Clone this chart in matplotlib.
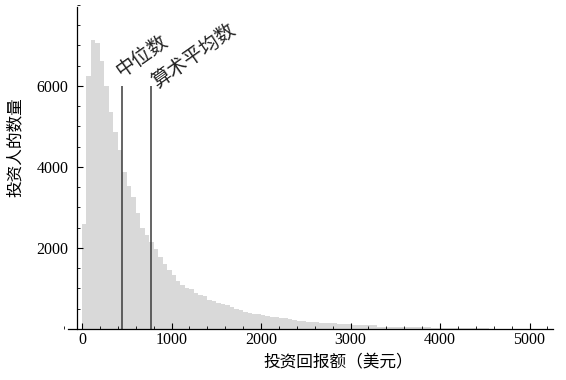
import numpy as np
import matplotlib
matplotlib.use("Agg")
import matplotlib.pyplot as plt
from matplotlib.ticker import MultipleLocator

# histogram of investor returns, 50-dollar bins starting at 0
BIN_WIDTH = 50
counts = [
    2600, 6250, 7130, 7050, 6620, 6000, 5370, 4860, 4420, 3870,
    3530, 3250, 2860, 2490, 2330, 2140, 1970, 1770, 1600, 1460,
    1340, 1190, 1090, 1010, 990, 880, 840, 810, 720, 700,
    650, 620, 580, 540, 500, 460, 420, 390, 370, 360,
    345, 310, 290, 285, 264, 260, 250, 210, 205, 185,
    180, 175, 165, 160, 150, 140, 140, 135, 130, 120,
    105, 100, 100, 95, 95, 90, 60, 60, 58, 55,
    55, 48, 45, 45, 42, 40, 40, 38, 35, 33,
    32, 30, 28, 25, 22, 20, 18, 16, 15, 13,
    12, 11, 10, 9, 8, 7, 6, 5, 5, 4,
]
median_value = 447
mean_value = 771
marker_top = 6000
x_ticks = [0, 1000, 2000, 3000, 4000, 5000]
y_ticks = [2000, 4000, 6000]

bin_left = np.arange(len(counts)) * BIN_WIDTH

CJK = ["Noto Sans CJK SC", "DejaVu Sans"]
NUM = "Liberation Serif"

fig = plt.figure(figsize=(5.66, 3.8), dpi=100)
ax = fig.add_axes([60 / 566, 40 / 380, 496 / 566, 335 / 380])
ax.set_xlim(-246, 5296)
ax.set_ylim(-272, 8000)

ax.bar(bin_left, counts, width=BIN_WIDTH, align="edge", color="#d9d9d9", linewidth=0)
ax.vlines([median_value, mean_value], 0, marker_top, colors="#3a3a3a", linewidth=1.1)

ax.text(470, 6100, "中位数", rotation=35, rotation_mode="anchor",
        ha="left", va="bottom", fontsize=14, family=CJK, color="#222222")
ax.text(866, 5850, "算术平均数", rotation=35, rotation_mode="anchor",
        ha="left", va="bottom", fontsize=14, family=CJK, color="#222222")

for side in ["top", "right"]:
    ax.spines[side].set_visible(False)
ax.spines["left"].set_position(("data", -56))
ax.spines["left"].set_bounds(0, 7950)
ax.spines["bottom"].set_position(("data", 0))
ax.spines["bottom"].set_bounds(-160, 5263)
for side in ["left", "bottom"]:
    ax.spines[side].set_linewidth(0.9)

ax.set_xticks(x_ticks)
ax.set_yticks(y_ticks)
ax.xaxis.set_minor_locator(MultipleLocator(200))
ax.yaxis.set_minor_locator(MultipleLocator(500))
ax.tick_params(which="major", direction="in", length=4, width=0.8)
ax.tick_params(which="minor", direction="in", length=2.5, width=0.6)
ax.tick_params(axis="x", pad=2)
ax.tick_params(axis="y", pad=6)
for lab in ax.get_xticklabels() + ax.get_yticklabels():
    lab.set_fontfamily(NUM)
    lab.set_fontsize(11.5)

fig.text(15 / 566, 1 - 147 / 380, "投资人的数量", rotation=90,
         ha="center", va="center", fontsize=12, family=CJK)
fig.text(338 / 566, 1 - 363 / 380, "投资回报额（美元）",
         ha="center", va="center", fontsize=12, family=CJK)

fig.savefig("out.png", dpi=100)
